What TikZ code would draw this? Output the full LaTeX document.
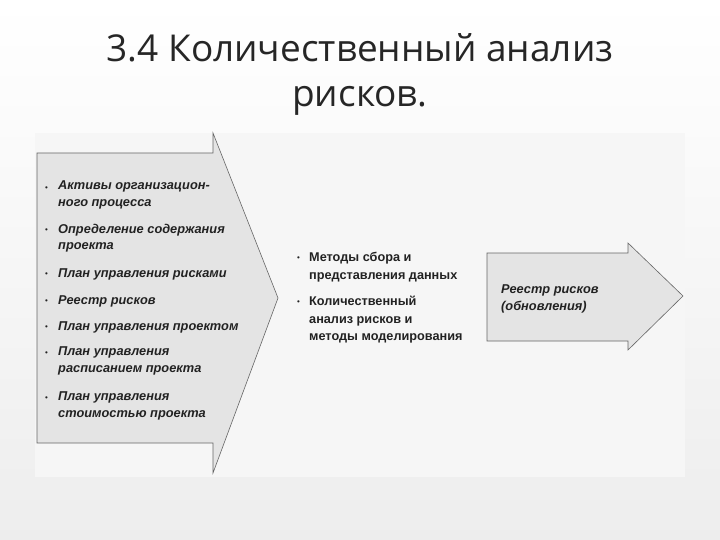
\documentclass[tikz,border=0pt]{standalone}
\usepackage{fontspec}
\setmainfont{Liberation Sans}
\newfontfamily\titlefont{Open Sans}
\usetikzlibrary{positioning}
\definecolor{scanbg}{HTML}{F6F6F6}
\definecolor{arrowfill}{HTML}{E4E4E4}
\definecolor{arrowline}{HTML}{666666}
\definecolor{inktext}{HTML}{222222}
\tikzset{
  bigarrow/.style={fill=arrowfill, draw=arrowline, line width=0.6pt},
  initem/.style={anchor=west, align=left, inner sep=0pt, text=inktext,
    font=\fontsize{12.8}{16.5}\selectfont\bfseries\itshape},
  tlitem/.style={anchor=west, align=left, inner sep=0pt, text=inktext,
    font=\fontsize{12.7}{17.5}\selectfont\bfseries},
  dot/.style={anchor=west, inner sep=0pt, text=inktext, font=\fontsize{8}{10}\selectfont}
}
\begin{document}
\begin{tikzpicture}[x=1pt,y=-1pt]
\useasboundingbox (0,0) rectangle (720,540);
\shade[top color=white, bottom color=gray!14] (0,0) rectangle (720,540);
\node [font=\titlefont\fontsize{37}{45}\selectfont, align=center, text=black!85] (title) at (360,74)
  {3.4 Количественный анализ\\рисков.};
% scanned figure
\fill [scanbg] (35,133) rectangle (685,477);
\draw [bigarrow] (37,153) -- (213,153) -- (213,133) -- (278,298) -- (213,473) -- (213,443) -- (37,443) -- cycle;
\draw [bigarrow] (487,253) -- (628,253) -- (628,243) -- (683,296) -- (628,350) -- (628,341) -- (487,341) -- cycle;
% inputs
\node [dot] (b1) at (45,189) {•};
\node [initem] (in1) at (58,195) {Активы организацион-\\ного процесса};
\node [dot] (b2) at (45,231) {•};
\node [initem] (in2) at (58,238) {Определение содержания\\проекта};
\node [dot] (b3) at (45,275) {•};
\node [initem] (in3) at (58,274) {План управления рисками};
\node [dot] (b4) at (45,302) {•};
\node [initem] (in4) at (58,301) {Реестр рисков};
\node [dot] (b5) at (45,328) {•};
\node [initem] (in5) at (58,327) {План управления проектом};
\node [dot] (b6) at (45,354) {•};
\node [initem] (in6) at (58,361) {План управления\\расписанием проекта};
\node [dot] (b7) at (45,399) {•};
\node [initem] (in7) at (58,406) {План управления\\стоимостью проекта};
% tools
\node [dot] (t1) at (297,259) {•};
\node [tlitem] (tl1) at (309,267) {Методы сбора и\\представления данных};
\node [dot] (t2) at (297,303) {•};
\node [tlitem] (tl2) at (309,320) {Количественный\\анализ рисков и\\методы моделирования};
% outputs
\node [initem] (out1) at (501,299) {Реестр рисков\\(обновления)};
\end{tikzpicture}
\end{document}
